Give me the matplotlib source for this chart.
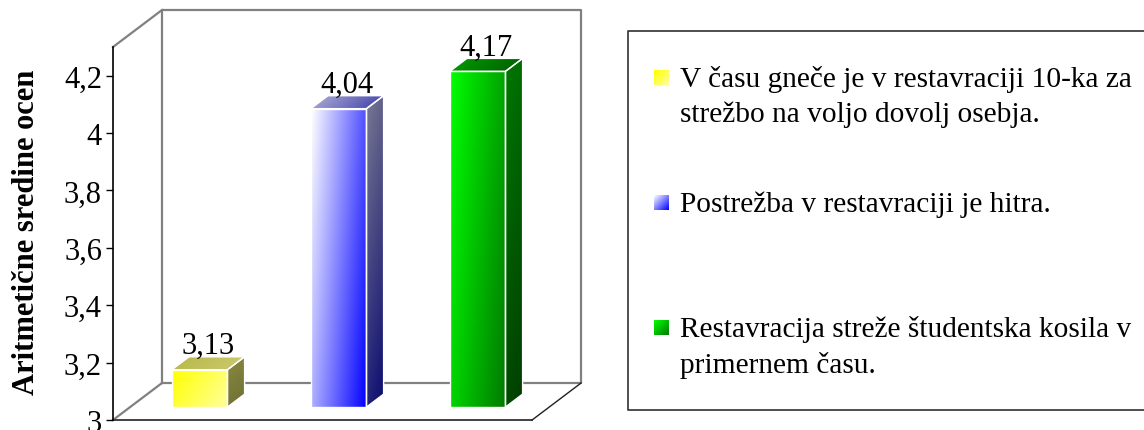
import numpy as np
import matplotlib
matplotlib.use("Agg")
import matplotlib.pyplot as plt
from matplotlib.patches import Polygon, Rectangle
from matplotlib.colors import to_rgb

# data
values = [3.13, 4.04, 4.17]
labels = [
    "V času gneče je v restavraciji 10-ka za\nstrežbo na voljo dovolj osebja.",
    "Postrežba v restavraciji je hitra.",
    "Restavracija streže študentska kosila v\nprimernem času.",
]
y_ticks = [3, 3.2, 3.4, 3.6, 3.8, 4, 4.2]
y_min, y_max = 3, 4.3

# colours: (front light, front dark), side, top
front_cols = [("#ffff00", "#ffff9a"), ("#ffffff", "#0000ff"), ("#00ff00", "#007a00")]
side_cols = [("#8a8a44", "#6e6e30"), ("#7a7a92", "#0a0a70"), ("#007a00", "#003c00")]
top_cols = [("#b8b848", "#caca70"), ("#b0b0d8", "#3c3ca8"), ("#00a000", "#005a00")]

serif = "Liberation Serif"
W, H = 1144, 431
fig = plt.figure(figsize=(W / 100, H / 100), dpi=100)

# front plane of the plot area in pixels
x0_px, x1_px = 113, 530
yb_px, yt_px = 421, 48
ax = fig.add_axes([x0_px / W, (H - yb_px) / H, (x1_px - x0_px) / W, (yb_px - yt_px) / H])
ax.set_xlim(-0.5, 2.5)
ax.set_ylim(y_min, y_max)

# depth of the 3d box in data units
DX = 49 / 139
DY = 37 / ((yb_px - yt_px) / (y_max - y_min))
bar_w = 0.40
d_front, d_back = 0.35, 0.70


def gradient_fill(poly_xy, c1, c2, direction=(1.0, 0.35), z=3):
    poly_xy = np.asarray(poly_xy)
    xmin, ymin = poly_xy.min(axis=0)
    xmax, ymax = poly_xy.max(axis=0)
    n = 64
    u = np.linspace(0, 1, n)[None, :]
    v = np.linspace(0, 1, n)[:, None]
    # v=0 at top (imshow origin upper)
    t = direction[0] * u + direction[1] * v
    t = (t - t.min()) / (t.max() - t.min())
    a, b = np.array(to_rgb(c1)), np.array(to_rgb(c2))
    img = a[None, None, :] * (1 - t[..., None]) + b[None, None, :] * t[..., None]
    patch = Polygon(poly_xy, closed=True, facecolor="none", edgecolor="white",
                    lw=1.0, zorder=z + 0.1)
    ax.add_patch(patch)
    im = ax.imshow(img, extent=(xmin, xmax, ymin, ymax), aspect="auto",
                   origin="upper", zorder=z, interpolation="bilinear")
    im.set_clip_path(patch)


line_grey = "#808080"
# back wall and floor
bx0, bx1 = -0.5 + DX, 2.5 + DX + 0.015
by0, by1 = y_min + DY, y_max + DY
ax.plot([bx0, bx0, bx1, bx1, bx0], [by0, by1, by1, by0, by0], color=line_grey,
        lw=1.6, clip_on=False, zorder=1)
ax.plot([-0.5, bx0], [y_max, by1], color=line_grey, lw=1.6, clip_on=False, zorder=1)
ax.plot([-0.5, bx0], [y_min, by0], color=line_grey, lw=1.6, clip_on=False, zorder=1)
ax.plot([-0.5, 2.515], [y_min, y_min], color="#404040", lw=1.4, clip_on=False, zorder=1)
ax.plot([2.515, bx1], [y_min, by0], color="#202020", lw=1.0, clip_on=False, zorder=1)

# 3d columns
for i, v in enumerate(values):
    xl = i - bar_w / 2 + d_front * DX
    xr = xl + bar_w
    yb = y_min + d_front * DY
    yt = v + d_front * DY
    ddx = (d_back - d_front) * DX
    ddy = (d_back - d_front) * DY
    front = [(xl, yb), (xr, yb), (xr, yt), (xl, yt)]
    side = [(xr, yb), (xr + ddx, yb + ddy), (xr + ddx, yt + ddy), (xr, yt)]
    top = [(xl, yt), (xr, yt), (xr + ddx, yt + ddy), (xl + ddx, yt + ddy)]
    gradient_fill(front, *front_cols[i], direction=(1.0, 0.45), z=3)
    gradient_fill(side, *side_cols[i], direction=(0.3, 1.0), z=3)
    gradient_fill(top, *top_cols[i], direction=(1.0, 0.2), z=3)
    ax.text((xl + xr) / 2 + ddx / 2, yt + ddy + 0.013, f"{v:.2f}".replace(".", ","),
            ha="center", va="baseline", fontsize=22, family=serif, zorder=5)

# axes styling
for s in ["top", "right", "bottom"]:
    ax.spines[s].set_visible(False)
ax.spines["left"].set_color("black")
ax.spines["left"].set_linewidth(1.2)
ax.set_xticks([])
ax.set_yticks(y_ticks)
ax.set_yticklabels([f"{t:g}".replace(".", ",") for t in y_ticks], family=serif, fontsize=22)
ax.tick_params(axis="y", length=5, width=1.0, pad=3, color="black")
ax.patch.set_visible(False)
fig.text(27 / W, 1 - 232 / H, "Aritmetične sredine ocen", rotation=90, ha="center",
         va="center", fontsize=22, fontweight="bold", family=serif)

# legend box drawn in pixel coordinates
lax = fig.add_axes([628 / W, (H - 411) / H, (W - 628) / W, (411 - 32) / H])
lax.set_xlim(628, W)
lax.set_ylim(411, 32)
lax.axis("off")
lax.plot([W + 5, 628, 628, W + 5], [32, 32, 411, 411], color="#303030", lw=1.2, clip_on=False)
baselines = [[87, 122], [212], [337, 373]]
for i, lab in enumerate(labels):
    for line, by in zip(lab.split("\n"), baselines[i]):
        lax.text(680, by, line, ha="left", va="baseline", fontsize=21.2, family=serif)
    b0 = baselines[i][0]
    sq = Rectangle((654, b0 - 16), 15, 15, facecolor="none", edgecolor="none")
    lax.add_patch(sq)
    c1, c2 = front_cols[i]
    a, b = np.array(to_rgb(c1)), np.array(to_rgb(c2))
    t = np.linspace(0, 1, 32)
    tt = (t[None, :] + t[:, None]) / 2
    img = a * (1 - tt[..., None]) + b * tt[..., None]
    im = lax.imshow(img, extent=(654, 669, b0 - 1, b0 - 16), aspect="auto", origin="upper")
    im.set_clip_path(sq)
lax.set_xlim(628, W)
lax.set_ylim(411, 32)

fig.savefig("out.png", dpi=100)
